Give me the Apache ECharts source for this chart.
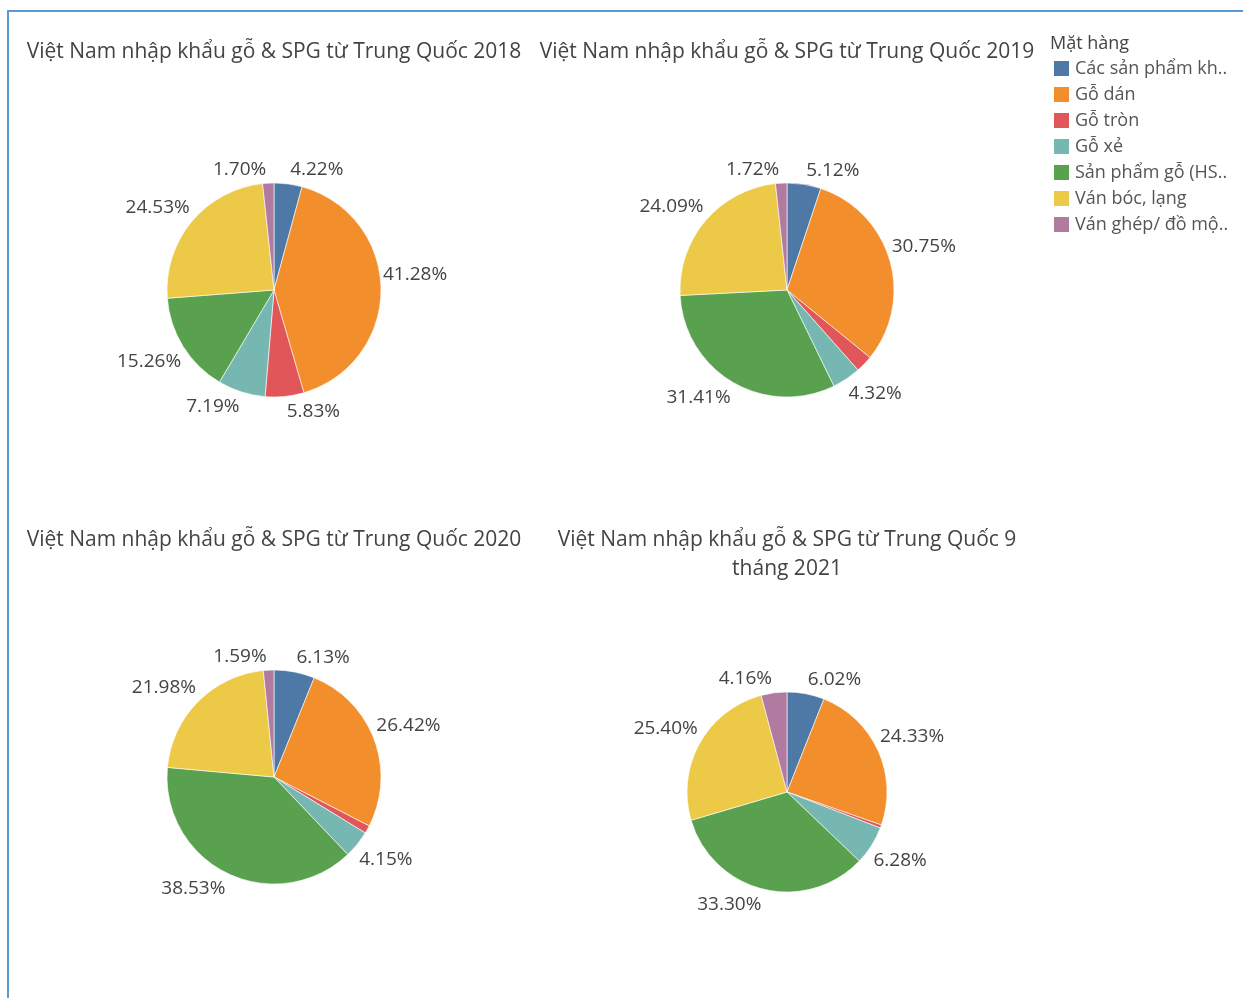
<!DOCTYPE html>
<html>
<head>
<meta charset="utf-8">
<script src="https://cdn.jsdelivr.net/npm/echarts@6/dist/echarts.min.js"></script>
<style>
html,body{margin:0;padding:0;background:#fff;}
#chart{width:1243px;height:998px;}
</style>
</head>
<body>
<div id="chart"></div>
<script>
// ---- data ----
var categories = ["Các sản phẩm kh..", "Gỗ dán", "Gỗ tròn", "Gỗ xẻ", "Sản phẩm gỗ (HS..", "Ván bóc, lạng", "Ván ghép/ đồ mộ.."];
var colors = ["#4E79A7", "#F28E2B", "#E15759", "#76B7B2", "#59A14F", "#EDC948", "#B07AA1"];
var chartTitles = [
  "Việt Nam nhập khẩu gỗ & SPG từ Trung Quốc 2018",
  "Việt Nam nhập khẩu gỗ & SPG từ Trung Quốc 2019",
  "Việt Nam nhập khẩu gỗ & SPG từ Trung Quốc 2020",
  "Việt Nam nhập khẩu gỗ & SPG từ Trung Quốc 9\ntháng 2021"
];
var share2018 = [4.22, 41.28, 5.83, 7.19, 15.26, 24.53, 1.70];
var share2019 = [5.12, 30.75, 2.59, 4.32, 31.41, 24.09, 1.72];
var share2020 = [6.13, 26.42, 1.20, 4.15, 38.53, 21.98, 1.59];
var share2021 = [6.02, 24.33, 0.51, 6.28, 33.30, 25.40, 4.16];
// labels shown (1) / hidden (0) per slice, as in the reference
var labelShown2018 = [1, 1, 1, 1, 1, 1, 1];
var labelShown2019 = [1, 1, 0, 1, 1, 1, 1];
var labelShown2020 = [1, 1, 0, 1, 1, 1, 1];
var labelShown2021 = [1, 1, 0, 1, 1, 1, 1];
var legendTitle = "Mặt hàng";

var FONT = "'Open Sans', 'Noto Sans', sans-serif";

var allShares = [share2018, share2019, share2020, share2021];
var allShown = [labelShown2018, labelShown2019, labelShown2020, labelShown2021];
var centers = [[274, 290], [787, 290], [274, 777], [787, 792]];
var radii = [107, 107, 107, 100];

function buildData(values, shown) {
  return categories.map(function (c, i) {
    return { name: c, value: values[i], label: { show: !!shown[i] } };
  });
}

// Tableau-like label placement: label edge at the slice's outer mid-point,
// shifted up (upper half) or down (lower half).
function tableauLabelLayout(params) {
  var s = params.seriesIndex, d = params.dataIndex;
  var vals = allShares[s];
  var total = vals.reduce(function (a, b) { return a + b; }, 0);
  var before = 0;
  for (var i = 0; i < d; i++) before += vals[i];
  var mid = (before + vals[d] / 2) / total * 2 * Math.PI; // clockwise from 12 o'clock
  var c = centers[s], r = radii[s];
  var ax = c[0] + r * Math.sin(mid);
  var ay = c[1] - r * Math.cos(mid);
  var right = Math.sin(mid) >= 0;
  var upper = Math.cos(mid) >= -0.02;
  return {
    x: ax + (right ? 2 : -2),
    y: ay + (upper ? -14 : 15),
    align: right ? 'left' : 'right',
    verticalAlign: 'middle'
  };
}

function pieSeries(idx) {
  return {
    type: 'pie',
    center: centers[idx],
    radius: radii[idx],
    startAngle: 90,
    clockwise: true,
    avoidLabelOverlap: false,
    itemStyle: { borderColor: '#fff', borderWidth: 0.6 },
    label: {
      position: 'outside',
      formatter: function (p) { return p.value.toFixed(2) + '%'; },
      fontFamily: FONT,
      fontSize: 19,
      color: '#444'
    },
    labelLine: { show: false, length: 0, length2: 0 },
    labelLayout: tableauLabelLayout,
    emphasis: { scale: false },
    data: buildData(allShares[idx], allShown[idx])
  };
}

var chart = echarts.init(document.getElementById('chart'), null, { renderer: 'canvas' });

var titleStyle = { fontFamily: FONT, fontSize: 21, fontWeight: 'normal', color: '#444', lineHeight: 29 };

chart.setOption({
  animation: false,
  color: colors,
  title: [
    { text: chartTitles[0], left: 269, top: 33, textAlign: 'center', textStyle: titleStyle },
    { text: chartTitles[1], left: 782, top: 33, textAlign: 'center', textStyle: titleStyle },
    { text: chartTitles[2], left: 269, top: 521, textAlign: 'center', textStyle: titleStyle },
    { text: chartTitles[3], left: 782, top: 521, textAlign: 'center', textStyle: titleStyle },
    { text: legendTitle, left: 1045, top: 30, textStyle: { fontFamily: FONT, fontSize: 18, fontWeight: 'normal', color: '#444' } }
  ],
  legend: {
    orient: 'vertical',
    left: 1047,
    top: 54,
    icon: 'rect',
    itemWidth: 17,
    itemHeight: 17,
    itemGap: 7,
    textStyle: { fontFamily: FONT, fontSize: 18, color: '#555', lineHeight: 17 },
    data: categories
  },
  graphic: [
    { type: 'rect', shape: { x: 7, y: 10, width: 1240, height: 2 }, style: { fill: '#5B9BD5' } },
    { type: 'rect', shape: { x: 7, y: 10, width: 2, height: 990 }, style: { fill: '#5B9BD5' } }
  ],
  series: [pieSeries(0), pieSeries(1), pieSeries(2), pieSeries(3)]
});
</script>
</body>
</html>
